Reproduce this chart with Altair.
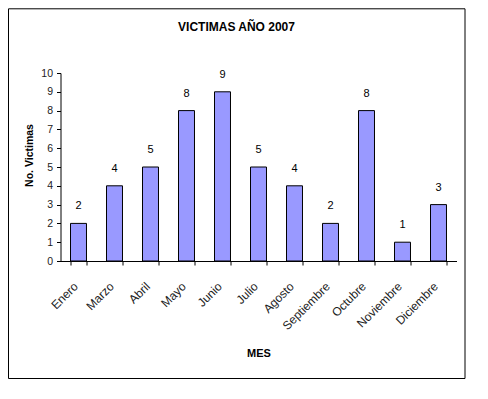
import altair as alt
import pandas as pd

months = ["Enero", "Marzo", "Abril", "Mayo", "Junio", "Julio", "Agosto",
          "Septiembre", "Octubre", "Noviembre", "Diciembre"]
victims = [2, 4, 5, 8, 9, 5, 4, 2, 8, 1, 3]
y_ticks = list(range(0, 11))

df = pd.DataFrame({"mes": months, "victimas": victims})
FONT = "Liberation Sans"

base = alt.Chart(df)

x_enc = alt.X("mes:N", sort=months,
              scale=alt.Scale(paddingInner=0.556, paddingOuter=0.278),
              axis=alt.Axis(title="MES", labelAngle=-45, labelAlign="right",
                            labelBaseline="middle", labelPadding=19, tickSize=4,
                            labelOffset=-3, labelOverlap=False,
                            tickBand="extent", labelFontSize=12, labelColor="#222",
                            titleFontSize=11, titleFontWeight="bold",
                            titleY=95, titleX=198, titleBaseline="alphabetic",
                            domainColor="black", tickColor="black", grid=False))
y_enc = alt.Y("victimas:Q", scale=alt.Scale(domain=[0, 10], nice=False),
              axis=alt.Axis(title="No. Victimas", values=y_ticks, tickCount=11,
                            tickSize=4, labelOverlap=False,
                            labelPadding=4, labelFontSize=10.5, labelColor="#222",
                            titleFontSize=10.5, titleFontWeight="bold",
                            titleX=-28, titleY=82, titleBaseline="alphabetic",
                            domainColor="black", tickColor="black", grid=False))

bars = base.mark_bar(color="#9999FF", stroke="black", strokeWidth=1).encode(
    x=x_enc, y=y_enc)

labels = base.mark_text(dy=-17, fontSize=11, baseline="middle", color="black").encode(
    x=x_enc, y=y_enc, text="victimas:Q")

border = alt.Chart(alt.Data(values=[{}])).mark_rect(
    filled=False, stroke="black", strokeWidth=1, clip=False).encode(
    x=alt.value(-52), x2=alt.value(404.5), y=alt.value(-64.2), y2=alt.value(305.5))

chart = alt.layer(border, bars, labels).properties(
    width=396, height=188,
    title=alt.TitleParams("VICTIMAS AÑO 2007", fontSize=12, fontWeight="bold",
                          font=FONT, anchor="middle", dx=-22, dy=26, offset=0),
    autosize=alt.AutoSizeParams(type="none"),
    padding={"left": 52.5, "top": 65, "right": 10, "bottom": 119},
).configure(font=FONT, background="white").configure_view(stroke=None)

chart.save("out.html", embed_options={"renderer": "svg", "actions": False})
